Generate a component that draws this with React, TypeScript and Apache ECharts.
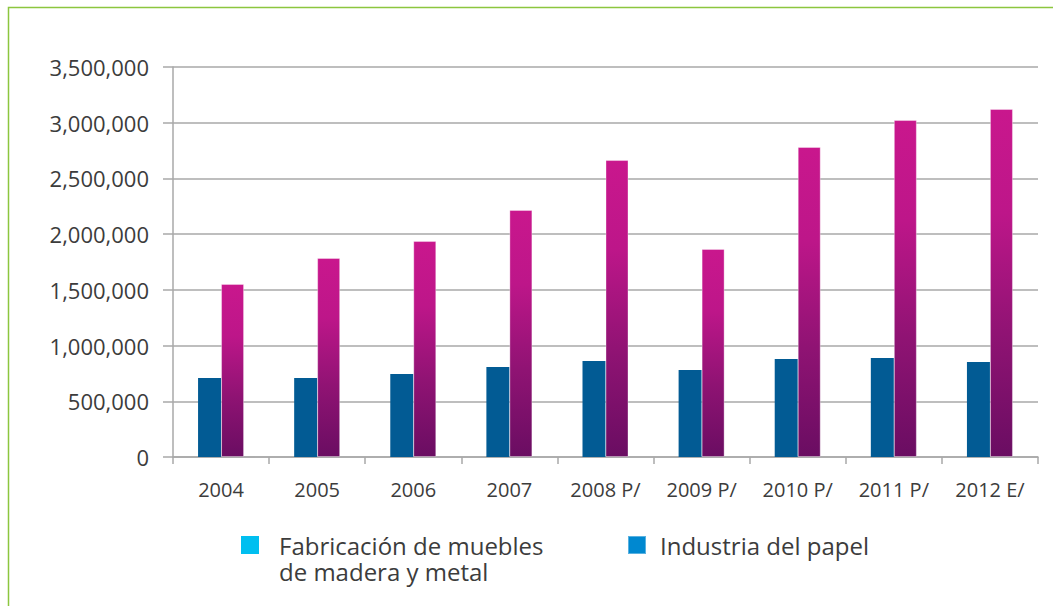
import React, { useEffect, useRef } from 'react';
import * as echarts from 'echarts';

const categories = ['2004', '2005', '2006', '2007', '2008 P/', '2009 P/', '2010 P/', '2011 P/', '2012 E/'];
const blueValues = [709000, 709000, 745000, 808000, 862000, 781000, 879000, 888000, 853000];
const magentaValues = [1553000, 1786000, 1938000, 2217000, 2665000, 1867000, 2782000, 3024000, 3123000];
const legendNames = ['Fabricación de muebles de madera y metal', 'Industria del papel'];
const legendColors = ['#00bff0', '#0088d0'];

const FONT = '"Open Sans", "Noto Sans", sans-serif';
const TEXT = '#3c3c3c';
const GRID = '#a8a8a8';

export default function App() {
  const ref = useRef<HTMLDivElement>(null);
  useEffect(() => {
    if (!ref.current) return;
    const chart = echarts.init(ref.current, null, { renderer: 'svg' });
    chart.setOption({
      animation: false,
      backgroundColor: '#ffffff',
      textStyle: { fontFamily: FONT },
      grid: { left: 173, right: 15, top: 67, bottom: 149 },
      legend: [
        {
          data: [{ name: legendNames[0], itemStyle: { color: legendColors[0] } }],
          left: 241,
          top: 506,
          padding: 0,
          itemWidth: 18,
          itemHeight: 18,
          icon: 'rect',
          selectedMode: false,
          formatter: () => ' \nFabricación de muebles\nde madera y metal',
          textStyle: { fontFamily: FONT, fontSize: 24, color: TEXT, lineHeight: 26, padding: [0, 0, 0, 15] },
        },
        {
          data: [{ name: legendNames[1], itemStyle: { color: legendColors[1] } }],
          left: 627,
          top: 532,
          padding: 0,
          itemWidth: 18,
          itemHeight: 18,
          icon: 'rect',
          selectedMode: false,
          textStyle: { fontFamily: FONT, fontSize: 24, color: TEXT, lineHeight: 26, padding: [0, 0, 0, 9] },
        },
      ],
      xAxis: {
        type: 'category',
        data: categories,
        axisLine: { lineStyle: { color: GRID, width: 1.5 } },
        axisTick: { show: true, length: 7, lineStyle: { color: GRID, width: 1.5 } },
        axisLabel: { color: TEXT, fontSize: 20, fontFamily: FONT, margin: 22 },
      },
      yAxis: {
        type: 'value',
        min: 0,
        max: 3500000,
        interval: 500000,
        axisLine: { show: true, lineStyle: { color: GRID, width: 1.5 } },
        axisTick: { show: true, length: 10, lineStyle: { color: GRID, width: 1.5 } },
        splitLine: { lineStyle: { color: GRID, width: 1.5 } },
        axisLabel: {
          color: TEXT,
          fontSize: 22,
          fontFamily: FONT,
          margin: 24,
          formatter: (v: number) => v.toLocaleString('en-US'),
        },
      },
      series: [
        {
          name: legendNames[0],
          type: 'bar',
          data: blueValues,
          barWidth: 23,
          barGap: '0%',
          itemStyle: { color: '#025b94' },
        },
        {
          name: legendNames[1],
          type: 'bar',
          data: magentaValues,
          barWidth: 23,
          barGap: '0%',
          itemStyle: {
            color: new echarts.graphic.LinearGradient(0, 0, 0, 1, [
              { offset: 0, color: '#c9178d' },
              { offset: 0.3, color: '#bd1689' },
              { offset: 0.65, color: '#8f1373' },
              { offset: 1, color: '#6a0d62' },
            ]),
            borderColor: 'rgba(255,255,255,0.35)',
            borderWidth: 1,
          },
        },
      ],
      graphic: [
        {
          type: 'rect',
          shape: { x: 8.5, y: 7.5, width: 1200, height: 800 },
          style: { fill: 'none', stroke: '#8cc63f', lineWidth: 1.5 },
          silent: true,
        },
      ],
    });
    return () => chart.dispose();
  }, []);
  return <div ref={ref} style={{ position: 'fixed', left: 0, top: 0, width: 1053, height: 606 }} />;
}
